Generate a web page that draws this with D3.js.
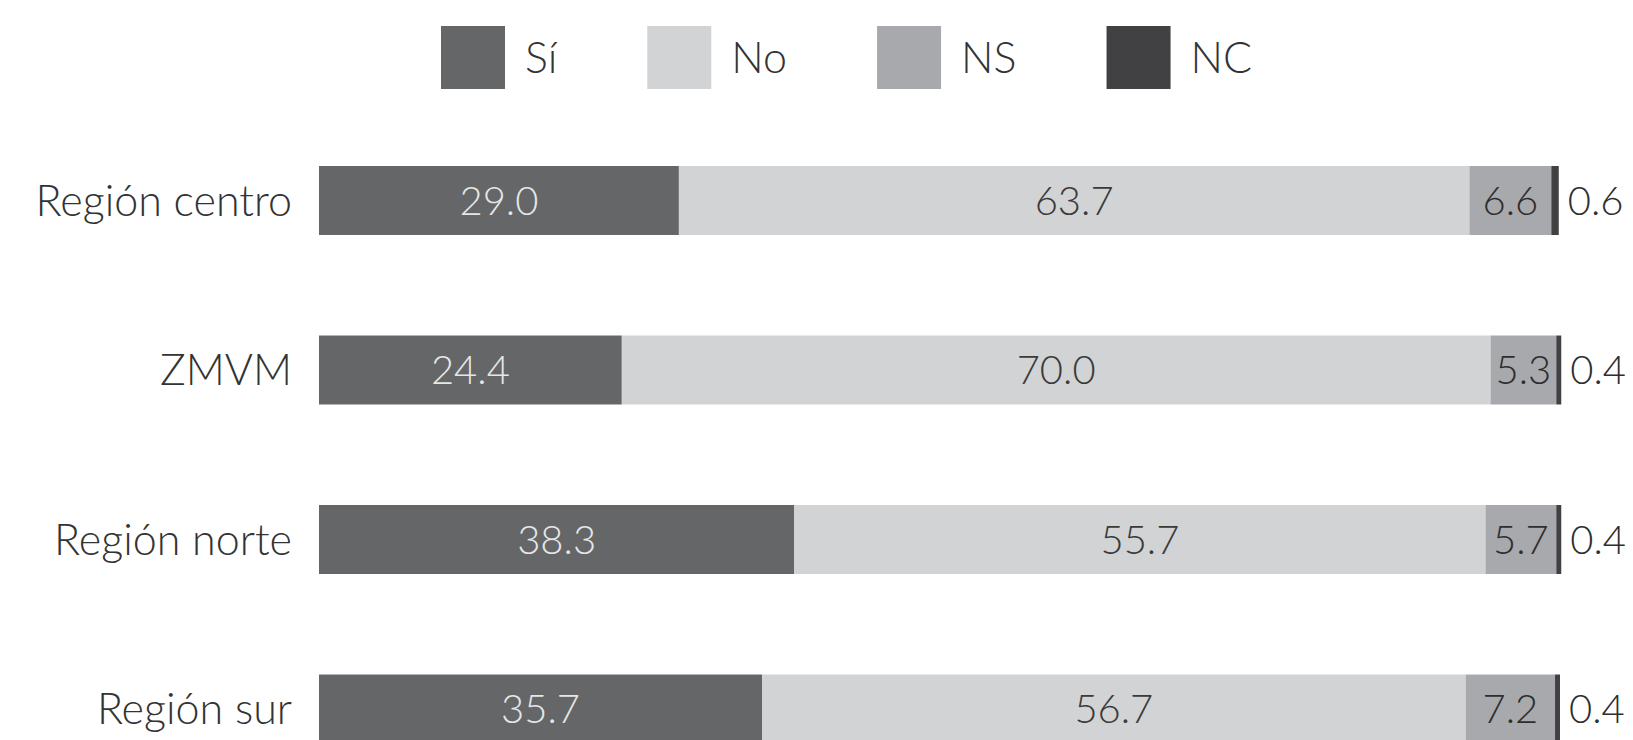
<!DOCTYPE html>
<html>
<head>
<meta charset="utf-8">
<script src="https://cdn.jsdelivr.net/npm/d3@7"></script>
<style>
  body { margin: 0; background: #fff; }
  svg text { font-family: Lato, "Open Sans", sans-serif; font-weight: 300; }
</style>
</head>
<body>
<div id="chart"></div>
<script>
const regions = ["Región centro", "ZMVM", "Región norte", "Región sur"];
const keys = ["Sí", "No", "NS", "NC"];
const si = [29.0, 24.4, 38.3, 35.7];
const no = [63.7, 70.0, 55.7, 56.7];
const ns = [6.6, 5.3, 5.7, 7.2];
const nc = [0.6, 0.4, 0.4, 0.4];

const colors = ["#646667", "#d1d3d4", "#a7a9ac", "#414042"];
const textColors = ["#e6e6e6", "#3a3a3a", "#2e2e2e", "#2e2e2e"];

const width = 1633, height = 740;
const svg = d3.select("#chart").append("svg").attr("width", width).attr("height", height);

const rows = regions.map((r, i) => ({ region: r, "Sí": si[i], "No": no[i], "NS": ns[i], "NC": nc[i] }));
const series = d3.stack().keys(keys)(rows);

const x = d3.scaleLinear().domain([0, 100]).range([319, 1560]);
const y = d3.scaleBand().domain(regions).range([166, 743.5]).paddingInner(0.593).paddingOuter(0);

// category labels
svg.append("g").selectAll("text")
  .data(regions)
  .join("text")
  .attr("x", 292)
  .attr("y", d => y(d) + y.bandwidth() / 2)
  .attr("dy", "0.35em")
  .attr("text-anchor", "end")
  .attr("font-size", 43)
  .attr("fill", "#333")
  .text(d => d);

// bars
const layer = svg.append("g").selectAll("g")
  .data(series)
  .join("g")
  .attr("fill", (d, i) => colors[i]);

layer.selectAll("rect")
  .data(d => d)
  .join("rect")
  .attr("x", d => x(d[0]))
  .attr("y", d => y(d.data.region))
  .attr("width", d => x(d[1]) - x(d[0]))
  .attr("height", y.bandwidth());

// value labels
series.forEach((s, k) => {
  svg.append("g").selectAll("text")
    .data(s)
    .join("text")
    .attr("x", d => k == 3 ? x(d[1]) + 9 : (x(d[0]) + x(d[1])) / 2)
    .attr("y", d => y(d.data.region) + y.bandwidth() / 2)
    .attr("dy", "0.36em")
    .attr("text-anchor", k == 3 ? "start" : "middle")
    .attr("font-size", 40)
    .attr("fill", textColors[k])
    .text(d => d3.format(".1f")(d.data[s.key]));
});

// legend, laid out from the measured text widths
const sw = 64, swH = 63, gap = 20, itemGap = 90;
const leg = svg.append("g").attr("transform", "translate(441,26)");
let lx = 0;
keys.forEach((k, i) => {
  const g = leg.append("g").attr("transform", `translate(${lx},0)`);
  g.append("rect").attr("width", sw).attr("height", swH).attr("fill", colors[i]);
  const t = g.append("text")
    .attr("x", sw + gap)
    .attr("y", swH / 2)
    .attr("dy", "0.36em")
    .attr("font-size", 43)
    .attr("fill", "#333")
    .text(k);
  lx += sw + gap + t.node().getComputedTextLength() + itemGap;
});
</script>
</body>
</html>
